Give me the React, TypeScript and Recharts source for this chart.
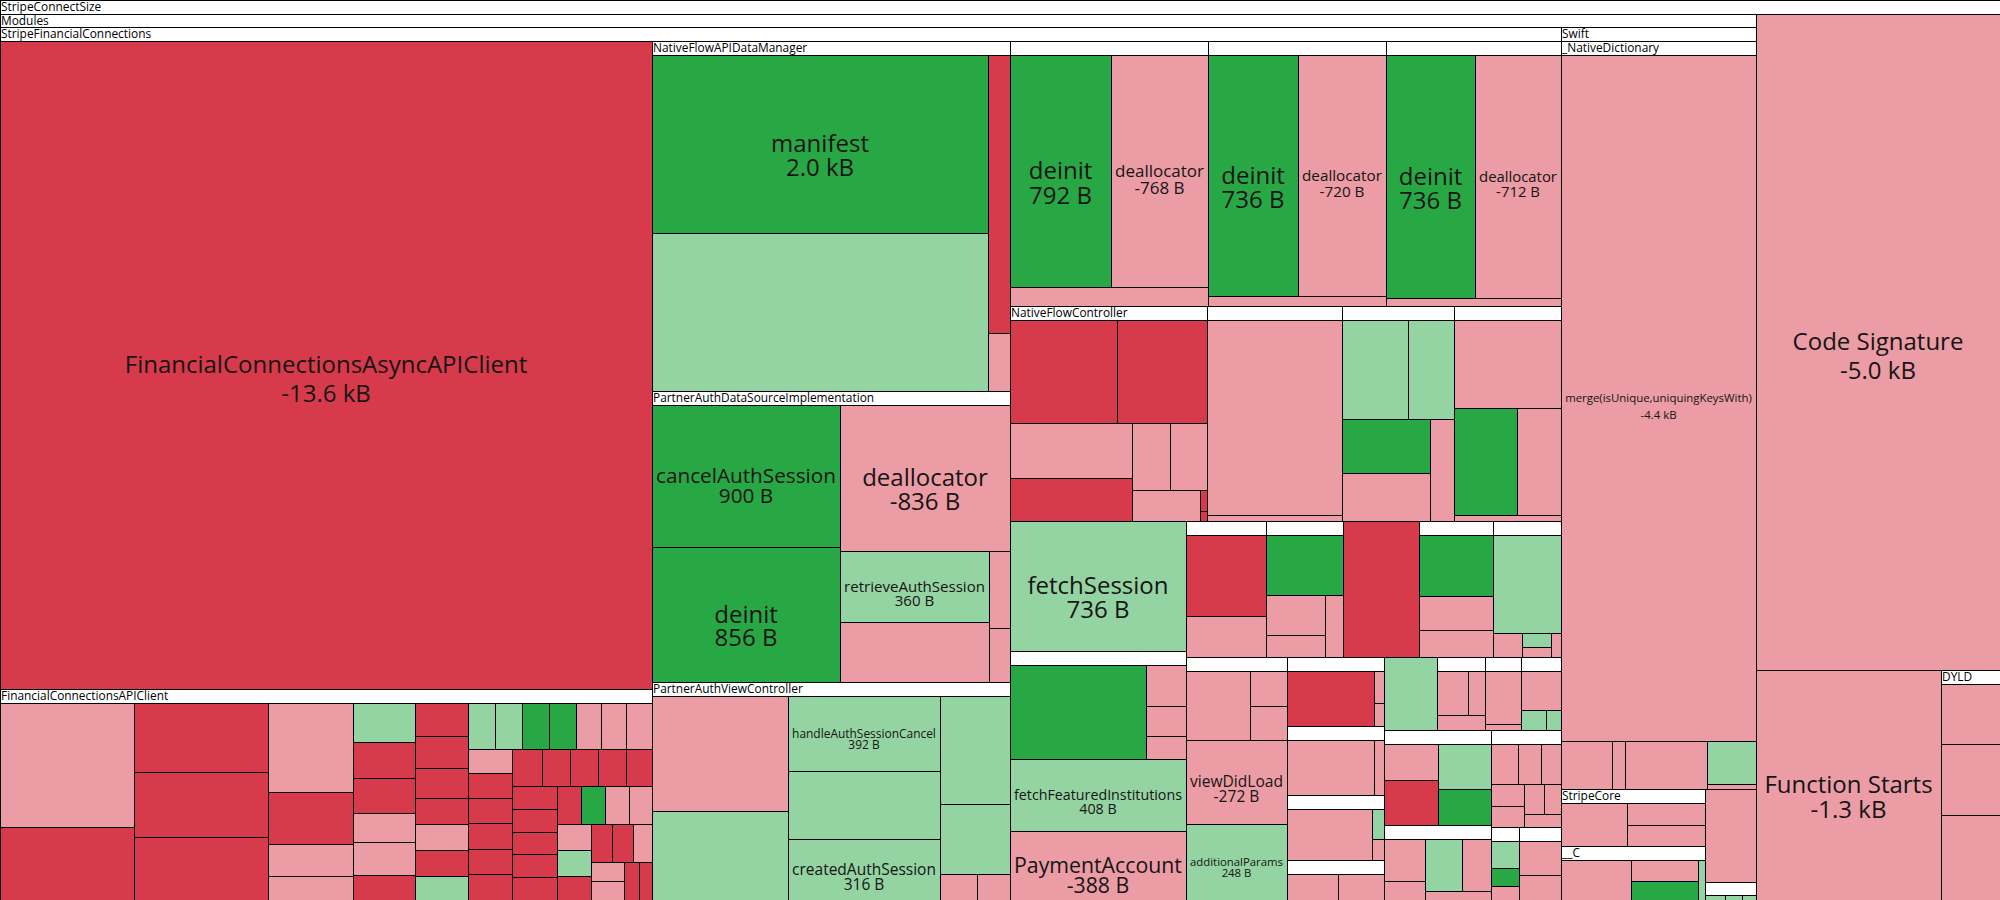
import { useMemo } from "react";
import { Treemap } from "recharts";

type Kind = "added" | "grown" | "shrunk" | "removed";
type Cell = [string, number, Kind];

// binary sections (StripeConnectSize level)
const binaryCells: Cell[] = [
  ["Code Signature", 5000, "shrunk"],
  ["Function Starts", 1330, "shrunk"],
];
const dyldCells: Cell[] = [["", 120, "shrunk"], ["", 140, "shrunk"], ["", 170, "shrunk"]];

// Swift / StripeCore / __C modules
const nativeDictionaryCells: Cell[] = [
  ["merge(isUnique,uniquingKeysWith)", 4400, "shrunk"],
  ["", 80, "shrunk"], ["", 20, "shrunk"], ["", 130, "shrunk"], ["", 70, "grown"], ["", 10, "shrunk"],
];
const stripeCoreCells: Cell[] = [["", 120, "shrunk"], ["", 70, "shrunk"], ["", 70, "shrunk"]];
const cModuleCells: Cell[] = [["", 120, "shrunk"], ["", 60, "shrunk"], ["", 55, "added"], ["", 12, "grown"]];
const otherModuleLeaf: Cell = ["", 150, "shrunk"];
const otherModuleCells: Cell[] = [["", 12, "grown"], ["", 10, "grown"], ["", 8, "grown"]];

// StripeFinancialConnections
const asyncClientCell: Cell = ["FinancialConnectionsAsyncAPIClient", 13600, "removed"];
const apiClientCells: Cell[] = [
  ["", 575, "shrunk"], ["", 332, "removed"],
  ["", 320, "removed"], ["", 300, "removed"], ["", 287, "removed"],
  ["", 262, "shrunk"], ["", 150, "removed"], ["", 92, "shrunk"], ["", 75, "shrunk"],
  ["", 84, "grown"], ["", 78, "removed"], ["", 74, "removed"], ["", 62, "shrunk"], ["", 70, "shrunk"], ["", 55, "removed"],
  ["", 62, "removed"], ["", 58, "removed"], ["", 55, "removed"], ["", 48, "removed"], ["", 48, "shrunk"], ["", 46, "removed"],
  ["", 42, "grown"], ["", 42, "grown"], ["", 42, "grown"], ["", 42, "added"], ["", 42, "added"],
  ["", 40, "shrunk"], ["", 40, "shrunk"], ["", 40, "shrunk"], ["", 37, "shrunk"],
  ["", 38, "removed"], ["", 38, "removed"], ["", 38, "removed"], ["", 38, "removed"], ["", 38, "removed"], ["", 38, "removed"],
  ["", 36, "removed"], ["", 36, "removed"], ["", 36, "removed"], ["", 36, "removed"], ["", 36, "removed"],
  ["", 35, "removed"], ["", 35, "removed"], ["", 35, "removed"], ["", 35, "removed"],
  ["", 32, "removed"], ["", 32, "added"], ["", 31, "shrunk"], ["", 31, "shrunk"], ["", 31, "shrunk"], ["", 30, "grown"],
  ["", 27, "removed"], ["", 27, "removed"], ["", 27, "removed"], ["", 25, "shrunk"], ["", 22, "shrunk"], ["", 22, "shrunk"],
  ["", 20, "removed"], ["", 20, "removed"],
];
const dataManagerCells: Cell[] = [["manifest", 2000, "added"], ["", 1780, "grown"], ["", 205, "removed"], ["", 45, "shrunk"]];
const dataSourceCells: Cell[] = [
  ["cancelAuthSession", 900, "added"], ["deinit", 856, "added"], ["deallocator", 836, "shrunk"],
  ["retrieveAuthSession", 360, "grown"], ["", 300, "shrunk"], ["", 55, "shrunk"], ["", 45, "shrunk"],
];
const viewControllerCells: Cell[] = [
  ["", 540, "shrunk"], ["", 417, "grown"], ["handleAuthSessionCancel", 392, "grown"], ["", 360, "grown"],
  ["createdAuthSession", 316, "grown"], ["", 261, "grown"], ["", 166, "grown"], ["", 33, "shrunk"], ["", 33, "shrunk"],
];
const closureA: Cell[] = [["deinit", 792, "added"], ["deallocator", 768, "shrunk"], ["", 125, "shrunk"]];
const closureB: Cell[] = [["deinit", 736, "added"], ["deallocator", 720, "shrunk"], ["", 65, "shrunk"]];
const closureC: Cell[] = [["deinit", 736, "added"], ["deallocator", 712, "shrunk"], ["", 50, "shrunk"]];
const flowControllerCells: Cell[] = [
  ["", 380, "removed"], ["", 316, "removed"], ["", 231, "shrunk"], ["", 181, "removed"], ["", 87, "shrunk"],
  ["", 87, "shrunk"], ["", 72, "shrunk"], ["", 5, "removed"], ["", 5, "removed"],
];
const flowGroupB: Cell[] = [["", 905, "shrunk"], ["", 27, "shrunk"]];
const flowGroupC: Cell[] = [["", 223, "grown"], ["", 158, "grown"], ["", 164, "added"], ["", 143, "shrunk"], ["", 85, "shrunk"]];
const flowGroupD: Cell[] = [["", 322, "shrunk"], ["", 233, "added"], ["", 161, "shrunk"], ["", 21, "shrunk"]];
const fetchSessionCell: Cell = ["fetchSession", 736, "grown"];
const institutionCells: Cell[] = [["", 470, "added"], ["", 60, "shrunk"], ["", 45, "shrunk"], ["", 35, "shrunk"]];
const featuredCell: Cell = ["fetchFeaturedInstitutions", 408, "grown"];
const paymentCell: Cell = ["PaymentAccount", 388, "shrunk"];
const rowGroupX: Cell[] = [["", 232, "removed"], ["", 120, "shrunk"]];
const rowGroupY: Cell[] = [["", 168, "added"], ["", 86, "shrunk"], ["", 46, "shrunk"], ["", 39, "shrunk"]];
const rowLeaf: Cell = ["", 331, "removed"];
const rowGroupZ: Cell[] = [["", 162, "added"], ["", 89, "shrunk"], ["", 71, "shrunk"]];
const rowGroupW: Cell[] = [["", 238, "grown"], ["", 25, "shrunk"], ["", 15, "grown"], ["", 10, "shrunk"], ["", 8, "shrunk"]];
const viewGroupCells: Cell[] = [["", 170, "shrunk"], ["", 50, "shrunk"], ["", 50, "shrunk"]];
const viewDidLoadCell: Cell = ["viewDidLoad", 272, "shrunk"];
const paramsCell: Cell = ["additionalParams", 248, "grown"];
const stackA: Cell[] = [["", 193, "removed"], ["", 13, "shrunk"], ["", 9, "shrunk"]];
const stackB: Cell[] = [["", 194, "shrunk"], ["", 22, "shrunk"]];
const stackC: Cell[] = [["", 178, "shrunk"], ["", 15, "grown"], ["", 10, "shrunk"]];
const stackD: Cell[] = [["", 67, "shrunk"], ["", 60, "shrunk"]];
const restLeaf: Cell = ["", 124, "grown"];
const restA: Cell[] = [["", 55, "shrunk"], ["", 30, "shrunk"], ["", 28, "shrunk"]];
const restB: Cell[] = [["", 76, "shrunk"], ["", 9, "shrunk"]];
const restC: Cell[] = [["", 60, "shrunk"], ["", 20, "grown"], ["", 12, "grown"]];
const restD: Cell[] = [["", 72, "shrunk"], ["", 92, "removed"], ["", 90, "grown"], ["", 72, "added"]];
const restE: Cell[] = [["", 70, "shrunk"], ["", 30, "shrunk"], ["", 77, "grown"], ["", 60, "shrunk"], ["", 25, "shrunk"]];
const restF: Cell[] = [
  ["", 40, "shrunk"], ["", 35, "shrunk"], ["", 30, "shrunk"], ["", 28, "shrunk"],
  ["", 25, "shrunk"], ["", 22, "shrunk"], ["", 20, "shrunk"], ["", 18, "shrunk"],
];
const restG: Cell[] = [["", 30, "grown"], ["", 20, "added"], ["", 15, "shrunk"]];
const restH: Cell[] = [["", 60, "shrunk"], ["", 45, "shrunk"]];

const COLORS: Record<Kind, string> = {
  added: "#28a745",
  grown: "#94d3a2",
  shrunk: "#eb9ca5",
  removed: "#d73a4a",
};

const FONT = '"Open Sans", "Noto Sans", sans-serif';
const WIDTH = 2000;
const HEIGHT = 900;
const LAYOUT_HEIGHT = 859;
const HEADER = 13.7;

interface TreeNode {
  name: string;
  size?: number;
  kind?: Kind;
  children?: TreeNode[];
  uid?: string;
  pid?: string;
}

const leaf = ([name, size, kind]: Cell): TreeNode => ({ name, size, kind });
const group = (name: string, cells: Cell[]): TreeNode => ({ name, children: cells.map(leaf) });
const nest = (name: string, children: TreeNode[]): TreeNode => ({ name, children });

function tag(node: TreeNode, uid: string, pid: string): TreeNode {
  return {
    ...node,
    uid,
    pid,
    children: node.children?.map((c, i) => tag(c, `${uid}.${i}`, uid)),
  };
}

const financialConnections = nest("StripeFinancialConnections", [
  leaf(asyncClientCell),
  group("FinancialConnectionsAPIClient", apiClientCells),
  group("NativeFlowAPIDataManager", dataManagerCells),
  group("PartnerAuthDataSourceImplementation", dataSourceCells),
  group("PartnerAuthViewController", viewControllerCells),
  group("", closureA),
  group("", closureB),
  group("", closureC),
  group("NativeFlowController", flowControllerCells),
  group("", flowGroupB),
  group("", flowGroupC),
  group("", flowGroupD),
  leaf(fetchSessionCell),
  group("", institutionCells),
  leaf(featuredCell),
  leaf(paymentCell),
  group("", rowGroupX),
  group("", rowGroupY),
  leaf(rowLeaf),
  group("", rowGroupZ),
  group("", rowGroupW),
  group("", viewGroupCells),
  leaf(viewDidLoadCell),
  leaf(paramsCell),
  group("", stackA),
  group("", stackB),
  group("", stackC),
  group("", stackD),
  leaf(restLeaf),
  group("", restA),
  group("", restB),
  group("", restC),
  group("", restD),
  group("", restE),
  group("", restF),
  group("", restG),
  group("", restH),
]);

const modules = nest("Modules", [
  financialConnections,
  nest("Swift", [group("_NativeDictionary", nativeDictionaryCells)]),
  group("StripeCore", stripeCoreCells),
  group("__C", cModuleCells),
  leaf(otherModuleLeaf),
  group("", otherModuleCells),
]);

const treeData: TreeNode[] = [
  tag(
    nest("StripeConnectSize", [modules, ...binaryCells.map(leaf), group("DYLD", dyldCells)]),
    "0",
    "root"
  ),
];

function formatSize(size: number, kind: Kind) {
  const sign = kind === "shrunk" || kind === "removed" ? "-" : "";
  return size >= 1000 ? `${sign}${(size / 1000).toFixed(1)} kB` : `${sign}${size} B`;
}

let measureCtx: CanvasRenderingContext2D | null = null;
function emWidth(text: string) {
  if (!measureCtx) measureCtx = document.createElement("canvas").getContext("2d");
  if (!measureCtx) return text.length * 0.56;
  measureCtx.font = `100px ${FONT}`;
  return measureCtx.measureText(text).width / 100;
}

type Box = { uy: number; uh: number; top: number; h: number; header: number };
const ROOT_BOX: Box = { uy: 0, uh: LAYOUT_HEIGHT, top: 0, h: HEIGHT, header: 0 };

// recharts lays nodes out without padding; each group's children are
// squeezed below a header strip, mapping y linearly into the inner area
function makeRenderer() {
  const boxes = new Map<string, Box>();
  return (props: any) => {
    const { x, y, width, height, depth, uid, pid, name, kind, size, children } = props;
    const isGroup = Array.isArray(children) && children.length > 0;
    if (depth === 0) {
      boxes.set("root", ROOT_BOX);
      return <g />;
    }
    const parent = boxes.get(pid) ?? ROOT_BOX;
    const k = (parent.h - parent.header) / parent.uh;
    const top = parent.top + parent.header + (y - parent.uy) * k;
    const h = height * k;
    boxes.set(uid, { uy: y, uh: height, top, h, header: isGroup ? HEADER : 0 });

    const y0 = Math.round(top);
    const y1 = Math.round(top + h);
    if (isGroup) {
      const hb = Math.round(top + HEADER) - y0;
      return (
        <g>
          <rect x={x + 0.5} y={y0 + 0.5} width={width} height={hb} fill="#fff" stroke="#000" />
          {name ? (
            <text x={x + 1} y={y0 + 10.6} fontSize={11.9} fontFamily={FONT} fill="#000">
              {name}
            </text>
          ) : null}
        </g>
      );
    }
    const hh = y1 - y0;
    let label = null;
    if (name) {
      const value = formatSize(size, kind);
      const fs = Math.min(24, (width - 8) / emWidth(name), (width - 8) / emWidth(value), hh / 2.3);
      const gap = fs * 0.95 + Math.max(0, Math.min(6, (hh - 100) / 100));
      const cx = x + width / 2;
      const cy = y0 + hh / 2;
      label = (
        <text textAnchor="middle" fontSize={fs} fontFamily={FONT} fill="#151515">
          <tspan x={cx} y={cy + fs * 0.35}>
            {name}
          </tspan>
          <tspan x={cx} y={cy + fs * 0.35 + gap}>
            {value}
          </tspan>
        </text>
      );
    }
    return (
      <g>
        <rect x={x + 0.5} y={y0 + 0.5} width={width} height={hh} fill={COLORS[kind as Kind]} stroke="#000" />
        {label}
      </g>
    );
  };
}

export default function App() {
  const renderCell = useMemo(() => makeRenderer(), []);
  return (
    <div style={{ position: "absolute", left: 0, top: 0, width: WIDTH, height: HEIGHT, background: "#fff" }}>
      <style>{".recharts-surface{overflow:visible}"}</style>
      <Treemap
        width={WIDTH}
        height={LAYOUT_HEIGHT}
        data={treeData}
        dataKey="size"
        nameKey="name"
        content={renderCell}
        isAnimationActive={false}
      />
    </div>
  );
}
